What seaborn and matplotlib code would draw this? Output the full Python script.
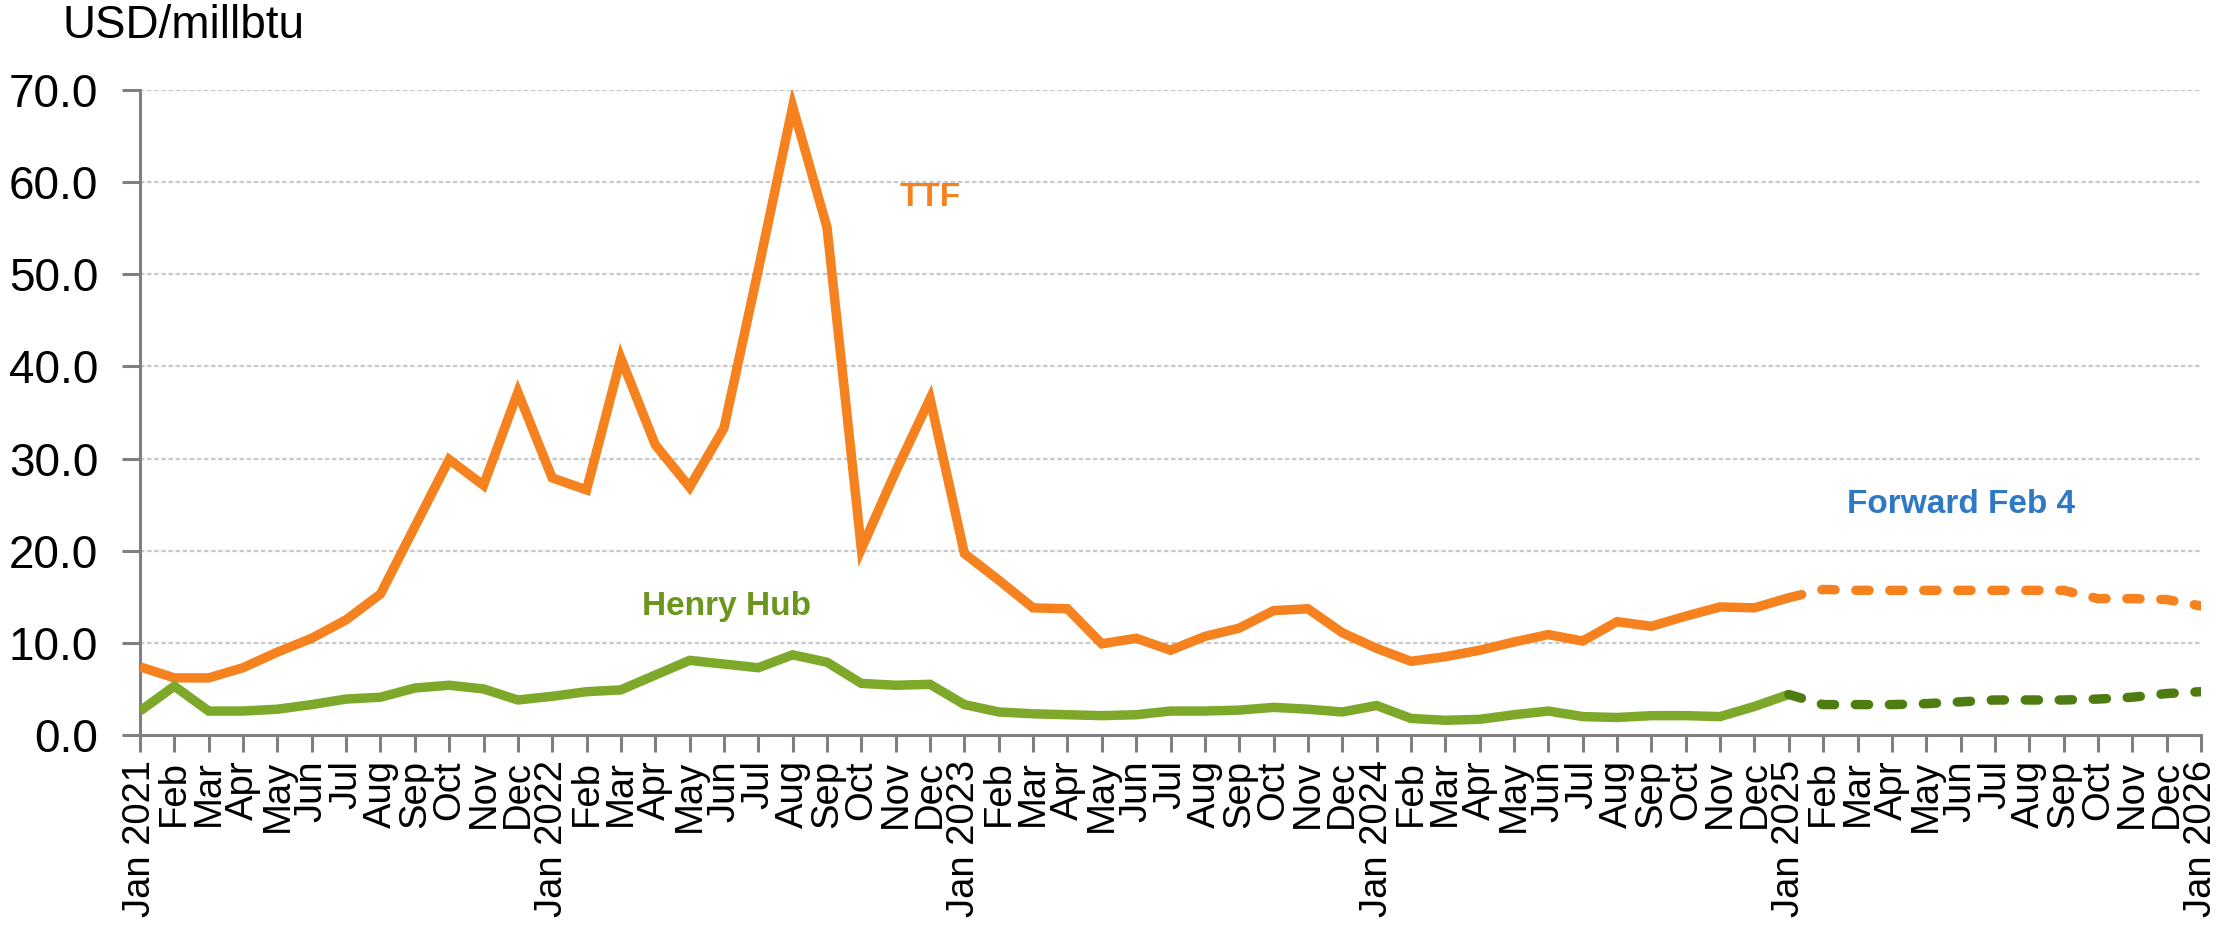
import numpy as np
import pandas as pd
import matplotlib
matplotlib.use("Agg")
import matplotlib.pyplot as plt
import seaborn as sns

# ---------------- data ----------------
month_names = ["Jan", "Feb", "Mar", "Apr", "May", "Jun",
               "Jul", "Aug", "Sep", "Oct", "Nov", "Dec"]
years = [2021, 2022, 2023, 2024, 2025, 2026]

ttf_actual = [7.4, 6.2, 6.2, 7.3, 9.0, 10.5, 12.5, 15.3, 22.6, 29.9, 27.1, 37.2,
              27.9, 26.6, 40.9, 31.5, 26.9, 33.3, 50.5, 68.2, 55.1, 20.2, 28.6, 36.5,
              19.7, 16.8, 13.8, 13.7, 9.9, 10.5, 9.2, 10.7, 11.6, 13.5, 13.7, 11.1,
              9.4, 8.0, 8.5, 9.2, 10.1, 10.9, 10.2, 12.3, 11.8, 12.9, 13.9, 13.8,
              14.9]
hh_actual = [2.6, 5.3, 2.6, 2.6, 2.8, 3.3, 3.9, 4.1, 5.1, 5.4, 5.0, 3.8,
             4.2, 4.7, 4.9, 6.5, 8.1, 7.7, 7.3, 8.7, 7.9, 5.6, 5.4, 5.5,
             3.3, 2.5, 2.3, 2.2, 2.1, 2.2, 2.6, 2.6, 2.7, 3.0, 2.8, 2.5,
             3.2, 1.8, 1.6, 1.7, 2.2, 2.6, 2.0, 1.9, 2.1, 2.1, 2.0, 3.1,
             4.4]
# forward curves (Jan 2025 .. Jan 2026)
ttf_forward = [14.9, 15.8, 15.7, 15.7, 15.7, 15.7, 15.7, 15.7, 15.7, 14.8, 14.8, 14.7, 14.0]
hh_forward = [4.4, 3.3, 3.3, 3.3, 3.4, 3.6, 3.8, 3.8, 3.8, 3.9, 4.1, 4.5, 4.7]

y_ticks = [0, 10, 20, 30, 40, 50, 60, 70]

# tick labels: "Jan YYYY" for January, month abbreviation otherwise
x_labels = []
for yr in years:
    for m in month_names:
        if yr == 2026 and m != "Jan":
            break
        x_labels.append(f"Jan {yr}" if m == "Jan" else m)

n_act = len(ttf_actual)
act_idx = np.arange(n_act)
fwd_idx = np.arange(n_act - 1, n_act - 1 + len(ttf_forward))

df_act = pd.DataFrame({"m": act_idx, "TTF": ttf_actual, "HH": hh_actual})
df_fwd = pd.DataFrame({"m": fwd_idx, "TTF": ttf_forward, "HH": hh_forward})

# ---------------- style ----------------
sns.set_style("white")
plt.rcParams["font.family"] = ["Liberation Sans", "DejaVu Sans"]

ORANGE = "#F5821F"
GREEN = "#7DA82A"
DKGREEN = "#4E7C10"
AXISC = "#7F7F7F"

fig = plt.figure(figsize=(22.22, 9.33), dpi=100)
ax = fig.add_axes([140 / 2222, 1 - 735 / 933, (2201 - 140) / 2222, (735 - 90) / 933])

# grid lines
for v in y_ticks[1:]:
    ax.axhline(v, color="#C8C8C8", lw=1.6, ls=(0, (2, 1.2)), zorder=0)

lw = 6.8
sns.lineplot(data=df_act, x="m", y="TTF", ax=ax, color=ORANGE, linewidth=lw,
             solid_joinstyle="miter", solid_capstyle="butt", zorder=3)
sns.lineplot(data=df_act, x="m", y="HH", ax=ax, color=GREEN, linewidth=lw,
             solid_joinstyle="miter", solid_capstyle="butt", zorder=3)
sns.lineplot(data=df_fwd, x="m", y="TTF", ax=ax, color=ORANGE, linewidth=lw,
             linestyle=(0, (1.4, 2.2)), dash_capstyle="round", zorder=3)
sns.lineplot(data=df_fwd, x="m", y="HH", ax=ax, color=DKGREEN, linewidth=lw,
             linestyle=(0, (1.4, 2.2)), dash_capstyle="round", zorder=3)

ax.set_xlim(0, len(x_labels) - 1)
ax.set_ylim(0, 70)
ax.set_xlabel("")
ax.set_ylabel("")

ax.set_yticks(y_ticks)
ax.set_yticklabels([f"{v:.1f}" for v in y_ticks])
ax.set_xticks(np.arange(len(x_labels)))
ax.set_xticklabels(x_labels, rotation=90, ha="center", va="top")

ax.tick_params(axis="y", direction="out", length=13, width=2.2, color=AXISC,
               labelsize=33, pad=17, labelcolor="black", left=True)
ax.tick_params(axis="x", direction="out", length=12, width=2.2, color=AXISC,
               labelsize=27.5, pad=6, labelcolor="black", bottom=True)

for s in ["top", "right"]:
    ax.spines[s].set_visible(False)
for s in ["left", "bottom"]:
    ax.spines[s].set_color(AXISC)
    ax.spines[s].set_linewidth(2.2)

# annotations
ax.text(22.1, 58.3, "TTF", color=ORANGE, fontsize=24, fontweight="bold",
        ha="left", va="center")
ax.text(14.6, 14.0, "Henry Hub", color="#6A961E", fontsize=24, fontweight="bold",
        ha="left", va="center")
ax.text(49.7, 25.0, "Forward Feb 4", color="#2F78C4", fontsize=24, fontweight="bold",
        ha="left", va="center")

fig.text(63 / 2222, 1 - 38 / 933, "USD/millbtu", fontsize=33, ha="left",
         va="baseline", color="black")

fig.savefig("out.png", dpi=100)
